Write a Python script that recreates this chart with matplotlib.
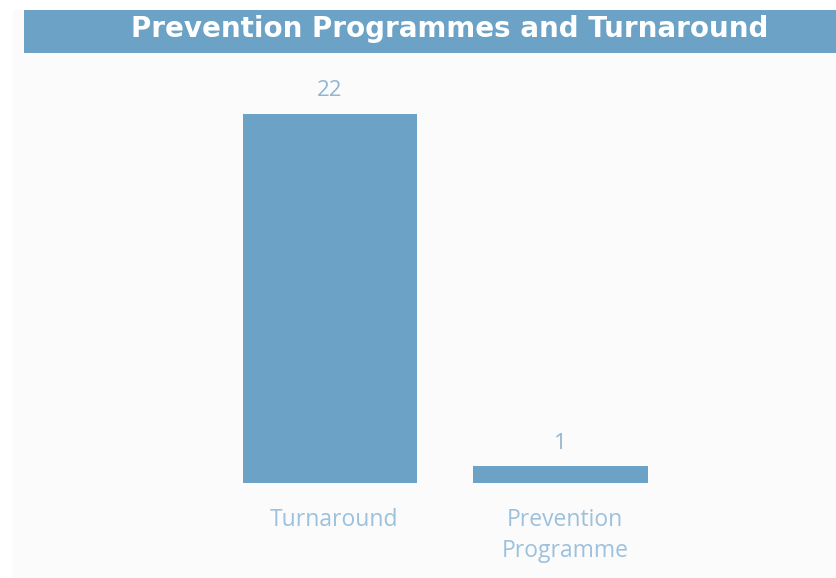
import matplotlib
matplotlib.use("Agg")
import matplotlib.pyplot as plt
import matplotlib.transforms as mtransforms
from matplotlib.patches import Rectangle

categories = ["Turnaround", "Prevention\nProgramme"]
values = [22, 1]
title = "Prevention Programmes and Turnaround"

W, H = 837, 578
fig = plt.figure(figsize=(W / 100, H / 100), dpi=100)
fig.patch.set_facecolor("white")

def fx(px):
    return px / W

def fy(py):
    return 1 - py / H

# background panel
fig.patches.append(Rectangle((fx(13), 0), 1 - fx(13), fy(10), transform=fig.transFigure,
                             facecolor="#fbfbfb", edgecolor="none", zorder=0))
# title bar
fig.patches.append(Rectangle((fx(24), fy(53)), 1 - fx(24), fy(10) - fy(53), transform=fig.transFigure,
                             facecolor="#6ba2c6", edgecolor="none", zorder=1))
fig.text(fx(450), fy(29), title, color="white", fontsize=20, fontweight="bold",
         family=["DejaVu Sans"], ha="center", va="center", zorder=3)

ax = fig.add_axes([fx(25), fy(483), fx(837) - fx(25), fy(53) - fy(483)])
ax.set_zorder(5)
ax.set_facecolor("none")
x = list(range(len(categories)))
bars = ax.bar(x, values, width=0.757, color="#6ba2c6")
pxu = 230.5
ax.set_xlim((25 - 330) / pxu, (837 - 330) / pxu)
ax.set_ylim(0, (483 - 53) / (369 / 22))
for b, v in zip(bars, values):
    ax.annotate(str(v), (b.get_x() + b.get_width() / 2, v), xytext=(0, 9),
                textcoords="offset points", ha="center", va="bottom",
                color="#8fb6d4", fontsize=16, family=["Open Sans", "DejaVu Sans"])
ax.set_xticks(x)
ax.set_xticklabels(categories, color="#9cc1dd", fontsize=16.5,
                   family=["Open Sans", "DejaVu Sans"], linespacing=1.37)
ax.tick_params(axis="x", length=0, pad=18)
shift = mtransforms.ScaledTranslation(4.5 / 100, 0, fig.dpi_scale_trans)
for lbl in ax.get_xticklabels():
    lbl.set_transform(lbl.get_transform() + shift)
ax.set_yticks([])
for s in ax.spines.values():
    s.set_visible(False)

fig.savefig("out.png", dpi=100, facecolor=fig.get_facecolor())
